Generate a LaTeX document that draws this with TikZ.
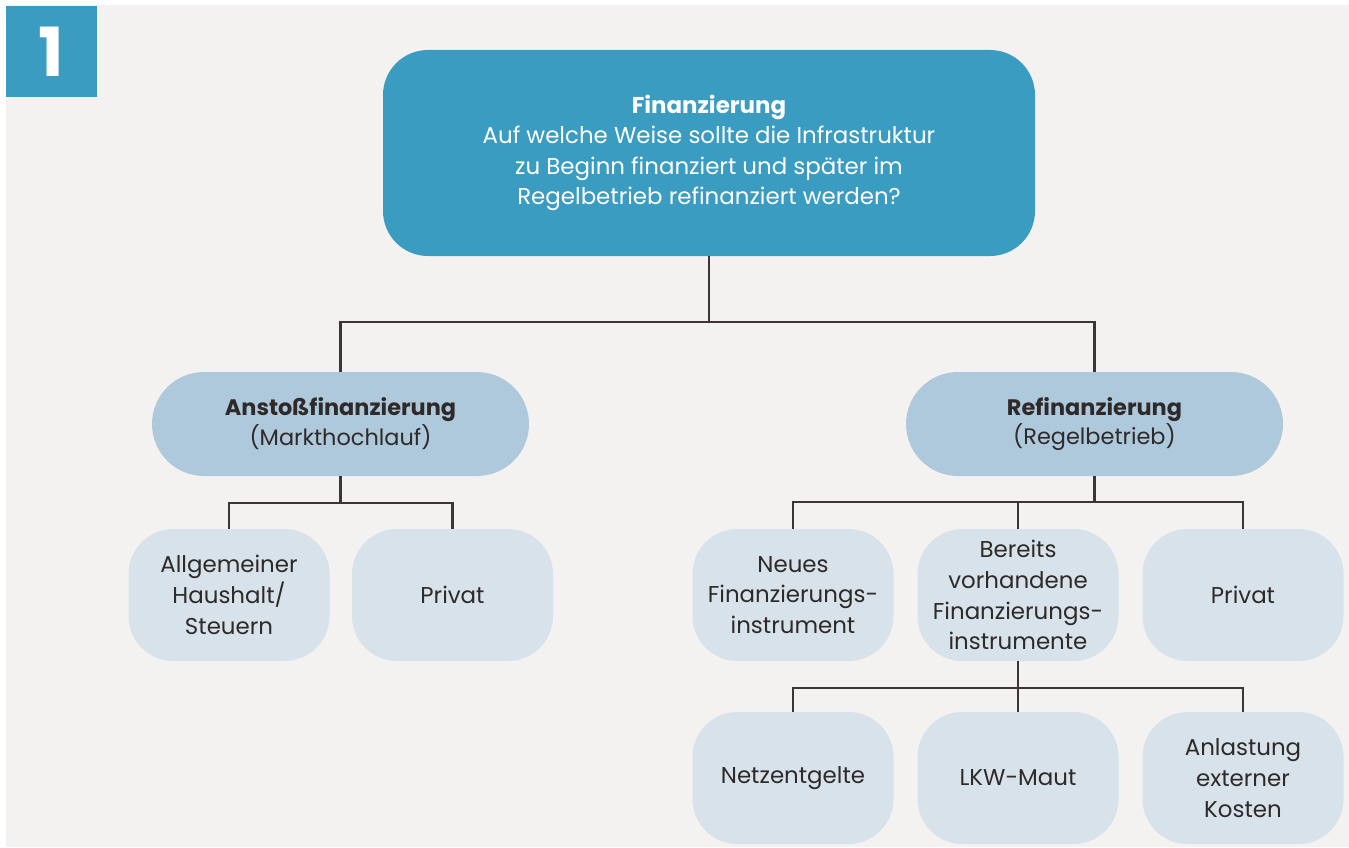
\documentclass[tikz,border=0pt]{standalone}
\usepackage{fontspec}
\setmainfont{Poppins}
\definecolor{bgc}{HTML}{F3F2F0}
\definecolor{dblue}{HTML}{3A9CC1}
\definecolor{mblue}{HTML}{AFC9DC}
\definecolor{lblue}{HTML}{D7E2EA}
\definecolor{linec}{HTML}{3D3535}
\definecolor{txtc}{HTML}{2E2A2A}
\begin{document}
\begin{tikzpicture}[x=1bp,y=-1bp,
  topbox/.style={fill=dblue, text=white, rounded corners=45bp, minimum width=652bp, minimum height=206bp, inner sep=0pt, align=center, font=\fontsize{23}{30.5}\selectfont},
  midbox/.style={fill=mblue, text=txtc, rounded corners=52bp, minimum width=377bp, minimum height=104bp, inner sep=0pt, align=center, font=\fontsize{22.5}{30}\selectfont},
  leafbox/.style={fill=lblue, text=txtc, rounded corners=45bp, minimum width=201bp, minimum height=132bp, inner sep=0pt, align=center, font=\fontsize{23}{31}\selectfont},
  conn/.style={draw=linec, line width=2.2bp}
]
\useasboundingbox (0,0) rectangle (1349,847);
\fill[white] (0,0) rectangle (1349,847);
\fill[bgc] (6,5) rectangle (1349,847);
\node[fill=dblue, minimum width=91bp, minimum height=91bp, inner sep=0pt, text=white, font=\fontsize{68}{68}\selectfont\bfseries] (num) at (51.5,51.5) {1};

\node[topbox] (top) at (709,153) {\textbf{Finanzierung}\\Auf welche Weise sollte die Infrastruktur\\zu Beginn finanziert und später im\\Regelbetrieb refinanziert werden?};

\node[midbox] (anst) at (340.5,424) {\textbf{Anstoßfinanzierung}\\(Markthochlauf)};
\node[midbox] (refi) at (1094.5,424) {\textbf{Refinanzierung}\\(Regelbetrieb)};

\node[leafbox] (allg) at (229,595) {Allgemeiner\\Haushalt/\\Steuern};
\node[leafbox] (priv1) at (452.5,595) {Privat};

\node[leafbox] (neu) at (793,595) {Neues\\Finanzierungs-\\instrument};
\node[leafbox] (ber) at (1018,595) {Bereits\\vorhandene\\Finanzierungs-\\instrumente};
\node[leafbox] (priv2) at (1243,595) {Privat};

\node[leafbox] (netz) at (793,778) {Netzentgelte};
\node[leafbox] (lkw) at (1018,778) {LKW-Maut};
\node[leafbox] (anl) at (1243,778) {Anlastung\\externer\\Kosten};

% connectors
\draw[conn] (top.south) -- (709,322) coordinate (j1);
\draw[conn] (anst.north) |- (j1) -| (refi.north);

\draw[conn] (anst.south) -- (340.5,503) coordinate (j2);
\draw[conn] (allg.north) |- (j2) -| (priv1.north);

\draw[conn] (refi.south) -- (1094.5,502) coordinate (j3);
\draw[conn] (neu.north) |- (j3) -| (priv2.north);
\draw[conn] (ber.north) -- (ber.north |- j3);

\draw[conn] (ber.south) -- (1018,688) coordinate (j4);
\draw[conn] (netz.north) |- (j4) -| (anl.north);
\draw[conn] (lkw.north) -- (j4);
\end{tikzpicture}
\end{document}
